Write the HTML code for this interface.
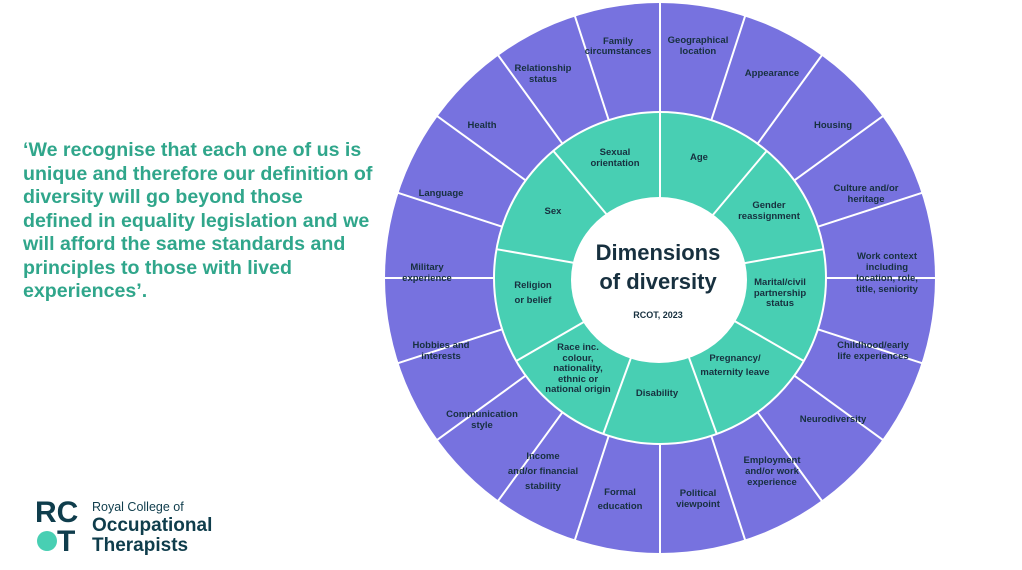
<!DOCTYPE html>
<html><head><meta charset="utf-8"><style>
html,body{margin:0;padding:0;background:#fff;width:1022px;height:570px;overflow:hidden;font-family:"Liberation Sans",Arial,sans-serif}
.q{position:absolute;left:23px;top:139px;font-size:19.6px;font-weight:bold;line-height:23.5px;color:#30a68b;white-space:pre}
svg{position:absolute;left:0;top:0}
.l{font-size:9.5px;font-weight:bold;fill:#17303f;text-anchor:middle}
</style></head><body>
<div class="q">‘We recognise that each one of us is
unique and therefore our definition of
diversity will go beyond those
defined in equality legislation and we
will afford the same standards and
principles to those with lived
experiences’.</div>
<svg width="1022" height="570" viewBox="0 0 1022 570">
<circle cx="660" cy="278" r="275" fill="#7772df"/>
<circle cx="660" cy="278" r="166" fill="#48cfb3" stroke="#fff" stroke-width="2"/>
<g transform="translate(660,278)" stroke="#fff" stroke-width="2">
<g id="o"><line x1="0" y1="-166" x2="0" y2="-280"/></g>
<use href="#o" transform="rotate(18)"/><use href="#o" transform="rotate(36)"/><use href="#o" transform="rotate(54)"/><use href="#o" transform="rotate(72)"/><use href="#o" transform="rotate(90)"/><use href="#o" transform="rotate(108)"/><use href="#o" transform="rotate(126)"/><use href="#o" transform="rotate(144)"/><use href="#o" transform="rotate(162)"/><use href="#o" transform="rotate(180)"/><use href="#o" transform="rotate(198)"/><use href="#o" transform="rotate(216)"/><use href="#o" transform="rotate(234)"/><use href="#o" transform="rotate(252)"/><use href="#o" transform="rotate(270)"/><use href="#o" transform="rotate(288)"/><use href="#o" transform="rotate(306)"/><use href="#o" transform="rotate(324)"/><use href="#o" transform="rotate(342)"/>
<g id="i"><line x1="0" y1="-60" x2="0" y2="-166"/></g>
<use href="#i" transform="rotate(40)"/><use href="#i" transform="rotate(80)"/><use href="#i" transform="rotate(120)"/><use href="#i" transform="rotate(160)"/><use href="#i" transform="rotate(200)"/><use href="#i" transform="rotate(240)"/><use href="#i" transform="rotate(280)"/><use href="#i" transform="rotate(320)"/>
</g>
<ellipse cx="659" cy="280" rx="88" ry="83" fill="#fff"/>
<text x="658" y="260" font-size="22" font-weight="bold" fill="#17303f" text-anchor="middle">Dimensions</text>
<text x="658" y="289" font-size="22" font-weight="bold" fill="#17303f" text-anchor="middle">of diversity</text>
<text x="658" y="318" font-size="9" font-weight="bold" fill="#17303f" text-anchor="middle">RCOT, 2023</text>
<g class="l">
<text class="l" x="698" y="43">Geographical</text><text class="l" x="698" y="54">location</text>
<text class="l" x="772" y="76">Appearance</text>
<text class="l" x="833" y="128">Housing</text>
<text class="l" x="866" y="191">Culture and/or</text><text class="l" x="866" y="202">heritage</text>
<text class="l" x="887" y="259">Work context</text><text class="l" x="887" y="270">including</text><text class="l" x="887" y="281">location, role,</text><text class="l" x="887" y="292">title, seniority</text>
<text class="l" x="873" y="348">Childhood/early</text><text class="l" x="873" y="359">life experiences</text>
<text class="l" x="833" y="422">Neurodiversity</text>
<text class="l" x="772" y="463">Employment</text><text class="l" x="772" y="474">and/or work</text><text class="l" x="772" y="485">experience</text>
<text class="l" x="698" y="496">Political</text><text class="l" x="698" y="507">viewpoint</text>
<text class="l" x="620" y="495">Formal</text><text class="l" x="620" y="509">education</text>
<text class="l" x="543" y="459">Income</text><text class="l" x="543" y="474">and/or financial</text><text class="l" x="543" y="489">stability</text>
<text class="l" x="482" y="417">Communication</text><text class="l" x="482" y="428">style</text>
<text class="l" x="441" y="348">Hobbies and</text><text class="l" x="441" y="359">interests</text>
<text class="l" x="427" y="270">Military</text><text class="l" x="427" y="281">experience</text>
<text class="l" x="441" y="196">Language</text>
<text class="l" x="482" y="128">Health</text>
<text class="l" x="543" y="71">Relationship</text><text class="l" x="543" y="82">status</text>
<text class="l" x="618" y="44">Family</text><text class="l" x="618" y="54">circumstances</text>
<text class="l" x="615" y="155">Sexual</text><text class="l" x="615" y="166">orientation</text>
<text class="l" x="699" y="160">Age</text>
<text class="l" x="769" y="208">Gender</text><text class="l" x="769" y="219">reassignment</text>
<text class="l" x="780" y="285">Marital/civil</text><text class="l" x="780" y="296">partnership</text><text class="l" x="780" y="306">status</text>
<text class="l" x="735" y="361">Pregnancy/</text><text class="l" x="735" y="375">maternity leave</text>
<text class="l" x="657" y="396">Disability</text>
<text class="l" x="578" y="350">Race inc.</text><text class="l" x="578" y="361">colour,</text><text class="l" x="578" y="371">nationality,</text><text class="l" x="578" y="382">ethnic or</text><text class="l" x="578" y="392">national origin</text>
<text class="l" x="533" y="288">Religion</text><text class="l" x="533" y="303">or belief</text>
<text class="l" x="553" y="214">Sex</text>
</g>
<text x="35" y="522" font-size="30" font-weight="bold" fill="#0f3d4c">RC</text>
<circle cx="47" cy="541" r="10" fill="#48cfb3"/>
<text x="57" y="551" font-size="30" font-weight="bold" fill="#0f3d4c">T</text>
<text x="92" y="511" font-size="12.5" fill="#0f3d4c">Royal College of</text>
<text x="92" y="531" font-size="19" font-weight="bold" fill="#0f3d4c">Occupational</text>
<text x="92" y="551" font-size="19" font-weight="bold" fill="#0f3d4c">Therapists</text>
</svg>
</body></html>
